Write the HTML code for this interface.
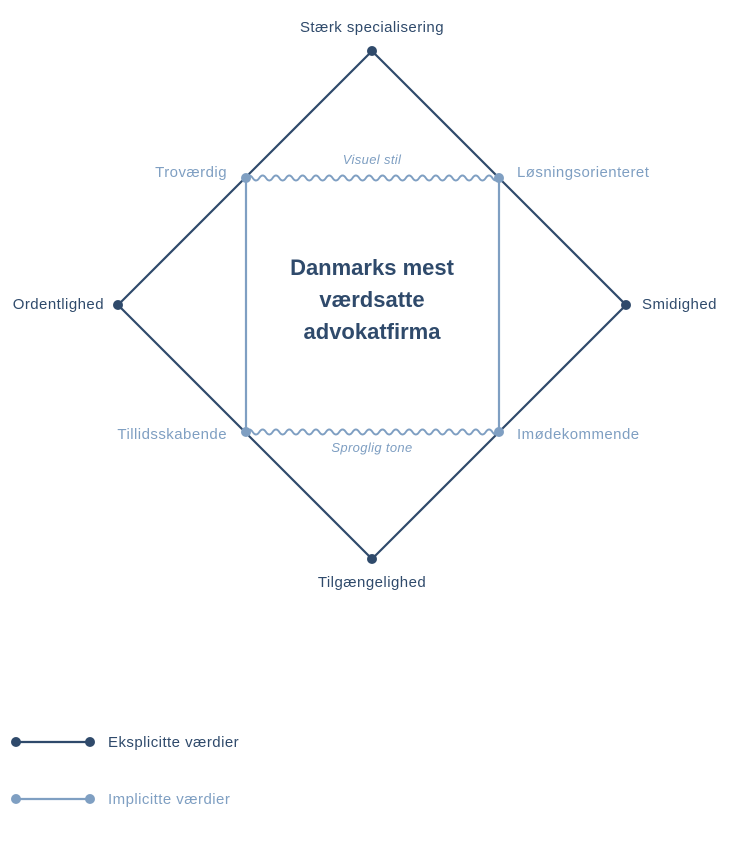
<!DOCTYPE html>
<html><head><meta charset="utf-8"><style>
html,body{margin:0;padding:0;background:#fff;}
svg{display:block;}
text{font-family:"Liberation Sans",sans-serif;}
.d{fill:#2f4a6b;font-size:15px;letter-spacing:0.45px;}
.l{fill:#7f9fc2;font-size:15px;letter-spacing:0.45px;}
.i{fill:#7f9fc2;font-size:13px;font-style:italic;letter-spacing:0.35px;}
</style></head><body>
<svg width="744" height="858" viewBox="0 0 744 858" xmlns="http://www.w3.org/2000/svg">
<polygon points="372,51 626,305 372,559 118,305" fill="none" stroke="#2f4a6b" stroke-width="2.2"/>
<line x1="246" y1="178" x2="246" y2="432" stroke="#7f9fc2" stroke-width="2.2"/>
<line x1="499" y1="178" x2="499" y2="432" stroke="#7f9fc2" stroke-width="2.2"/>
<path d="M246,178 q3.33,-5 6.66,0 t6.66,0 t6.66,0 t6.66,0 t6.66,0 t6.66,0 t6.66,0 t6.66,0 t6.66,0 t6.66,0 t6.66,0 t6.66,0 t6.66,0 t6.66,0 t6.66,0 t6.66,0 t6.66,0 t6.66,0 t6.66,0 t6.66,0 t6.66,0 t6.66,0 t6.66,0 t6.66,0 t6.66,0 t6.66,0 t6.66,0 t6.66,0 t6.66,0 t6.66,0 t6.66,0 t6.66,0 t6.66,0 t6.66,0 t6.66,0 t6.66,0 t6.66,0 t6.66,0" fill="none" stroke="#7f9fc2" stroke-width="2"/>
<path d="M246,432 q3.33,-5 6.66,0 t6.66,0 t6.66,0 t6.66,0 t6.66,0 t6.66,0 t6.66,0 t6.66,0 t6.66,0 t6.66,0 t6.66,0 t6.66,0 t6.66,0 t6.66,0 t6.66,0 t6.66,0 t6.66,0 t6.66,0 t6.66,0 t6.66,0 t6.66,0 t6.66,0 t6.66,0 t6.66,0 t6.66,0 t6.66,0 t6.66,0 t6.66,0 t6.66,0 t6.66,0 t6.66,0 t6.66,0 t6.66,0 t6.66,0 t6.66,0 t6.66,0 t6.66,0 t6.66,0" fill="none" stroke="#7f9fc2" stroke-width="2"/>
<g fill="#2f4a6b"><circle cx="372" cy="51" r="5"/><circle cx="626" cy="305" r="5"/><circle cx="372" cy="559" r="5"/><circle cx="118" cy="305" r="5"/></g>
<g fill="#7f9fc2"><circle cx="246" cy="178" r="5"/><circle cx="499" cy="178" r="5"/><circle cx="246" cy="432" r="5"/><circle cx="499" cy="432" r="5"/></g>
<text class="d" x="372" y="32" text-anchor="middle">Stærk specialisering</text>
<text class="d" x="104" y="309" text-anchor="end">Ordentlighed</text>
<text class="d" x="642" y="309">Smidighed</text>
<text class="d" x="372" y="587" text-anchor="middle">Tilgængelighed</text>
<text class="l" x="227" y="177" text-anchor="end">Troværdig</text>
<text class="l" x="517" y="177">Løsningsorienteret</text>
<text class="l" x="227" y="439" text-anchor="end">Tillidsskabende</text>
<text class="l" x="517" y="439">Imødekommende</text>
<text class="i" x="372" y="164" text-anchor="middle">Visuel stil</text>
<text class="i" x="372" y="452" text-anchor="middle">Sproglig tone</text>
<g fill="#2f4a6b" font-weight="bold" text-anchor="middle">
<text x="372" y="275" style="font-size:22px">Danmarks mest</text>
<text x="372" y="307" style="font-size:22px">værdsatte</text>
<text x="372" y="339" style="font-size:22px">advokatfirma</text>
</g>
<line x1="16" y1="742" x2="90" y2="742" stroke="#2f4a6b" stroke-width="2.2"/>
<circle cx="16" cy="742" r="5" fill="#2f4a6b"/><circle cx="90" cy="742" r="5" fill="#2f4a6b"/>
<text class="d" x="108" y="747">Eksplicitte værdier</text>
<line x1="16" y1="799" x2="90" y2="799" stroke="#7f9fc2" stroke-width="2.2"/>
<circle cx="16" cy="799" r="5" fill="#7f9fc2"/><circle cx="90" cy="799" r="5" fill="#7f9fc2"/>
<text class="l" x="108" y="804">Implicitte værdier</text>
</svg>
</body></html>
